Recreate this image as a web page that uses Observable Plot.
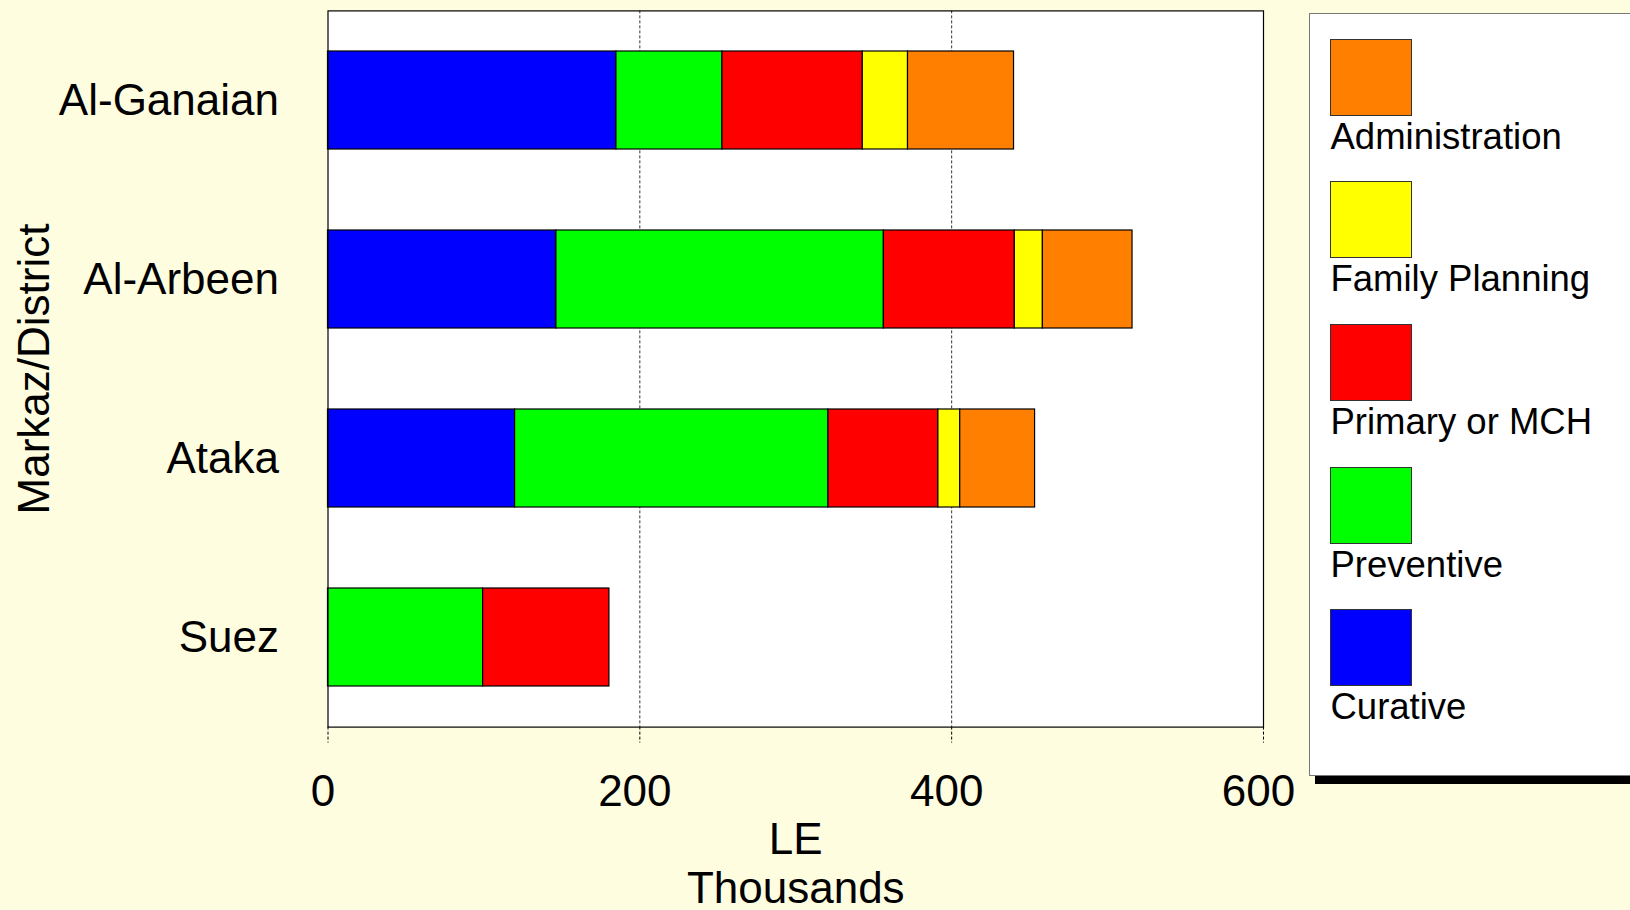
<!DOCTYPE html>
<html><head><meta charset="utf-8">
<script src="https://cdn.jsdelivr.net/npm/d3@7"></script>
<script src="https://cdn.jsdelivr.net/npm/@observablehq/plot@0.6"></script>
<style>
html,body{margin:0;padding:0;background:#fffde0;overflow:hidden;width:1630px;height:910px;}
#chart{position:absolute;left:0;top:0;}
#legend{position:absolute;left:1309px;top:12.5px;width:360px;height:761px;background:#fff;border:1px solid #777;box-shadow:6px 8px 0 0 #000;font-family:"Liberation Sans",Arial,sans-serif;}
.sw{position:absolute;left:19.5px;width:80px;height:75px;border:1px solid #333;}
.lb{position:absolute;left:20.5px;font-size:36.5px;line-height:1;color:#000;white-space:nowrap;}
</style></head><body>
<div id="chart"></div><div id="legend"></div>
<script>
const districts = ["Al-Ganaian","Al-Arbeen","Ataka","Suez"];
const categories = ["Curative","Preventive","Primary or MCH","Family Planning","Administration"];
const colors = ["#0000ff","#00ff00","#ff0000","#ffff00","#ff8000"];
const curative = [185,146.5,120,0];
const preventive = [68,210,201,99.5];
const primary = [90,84,70.5,81];
const familyPlanning = [29,18,14,0];
const administration = [68,57.5,48,0];
const xTicks = [0,200,400,600];
const gridTicks = [200,400];
const xLabel = "LE\nThousands";
const yLabel = "Markaz/District";

const series = [curative, preventive, primary, familyPlanning, administration];
const data = [];
districts.forEach((d,i)=>categories.forEach((c,j)=>data.push({district:d, category:c, value:series[j][i]})));

const plot = Plot.plot({
  width:1630, height:910,
  marginLeft:327.5, marginRight:367, marginTop:10.4, marginBottom:183.4,
  style:{background:"transparent", fontFamily:"'Liberation Sans', Arial, sans-serif", fontSize:"44px", color:"#000", overflow:"visible"},
  x:{domain:[0,600], label:null},
  y:{domain:districts, paddingInner:0.45, paddingOuter:0.225, label:null},
  color:{domain:categories, range:colors},
  marks:[
    Plot.frame({fill:"white", stroke:null}),
    Plot.ruleX(gridTicks, {stroke:"#333", strokeDasharray:"3,2", strokeWidth:1}),
    Plot.barX(data.filter(d=>d.value>0), Plot.stackX({y:"district", x:"value", fill:"category", stroke:"#000", strokeWidth:1.2, order:categories})),
    Plot.frame({stroke:"#000", strokeWidth:1.2}),
    Plot.axisX({ticks:xTicks, tickSize:16, strokeDasharray:"3,2", text:null}),
    Plot.axisX({ticks:xTicks, tickSize:0, tickPadding:48, dx:-5, fontSize:44, label:null}),
    Plot.axisY({tickSize:0, tickPadding:49, fontSize:44, label:null}),
    Plot.text([xLabel], {text:d=>d, frameAnchor:"bottom", dy:136, lineAnchor:"middle", lineHeight:1.11, fontSize:44}),
    Plot.text([yLabel], {text:d=>d, frameAnchor:"left", textAnchor:"middle", dx:-293.5, rotate:-90, fontSize:44})
  ]
});
document.getElementById("chart").appendChild(plot);

const color = plot.scale("color");
const legend = document.getElementById("legend");
const items = color.domain.map((c,i)=>({label:c, fill:color.range[i]})).reverse();
items.forEach((it,i)=>{
  const top = 25 + i*142.7;
  const sw = document.createElement("div");
  sw.className = "sw"; sw.style.top = top + "px"; sw.style.background = it.fill;
  legend.appendChild(sw);
  const lb = document.createElement("div");
  lb.className = "lb"; lb.style.top = (top + 80) + "px"; lb.textContent = it.label;
  legend.appendChild(lb);
});
</script>
</body></html>
